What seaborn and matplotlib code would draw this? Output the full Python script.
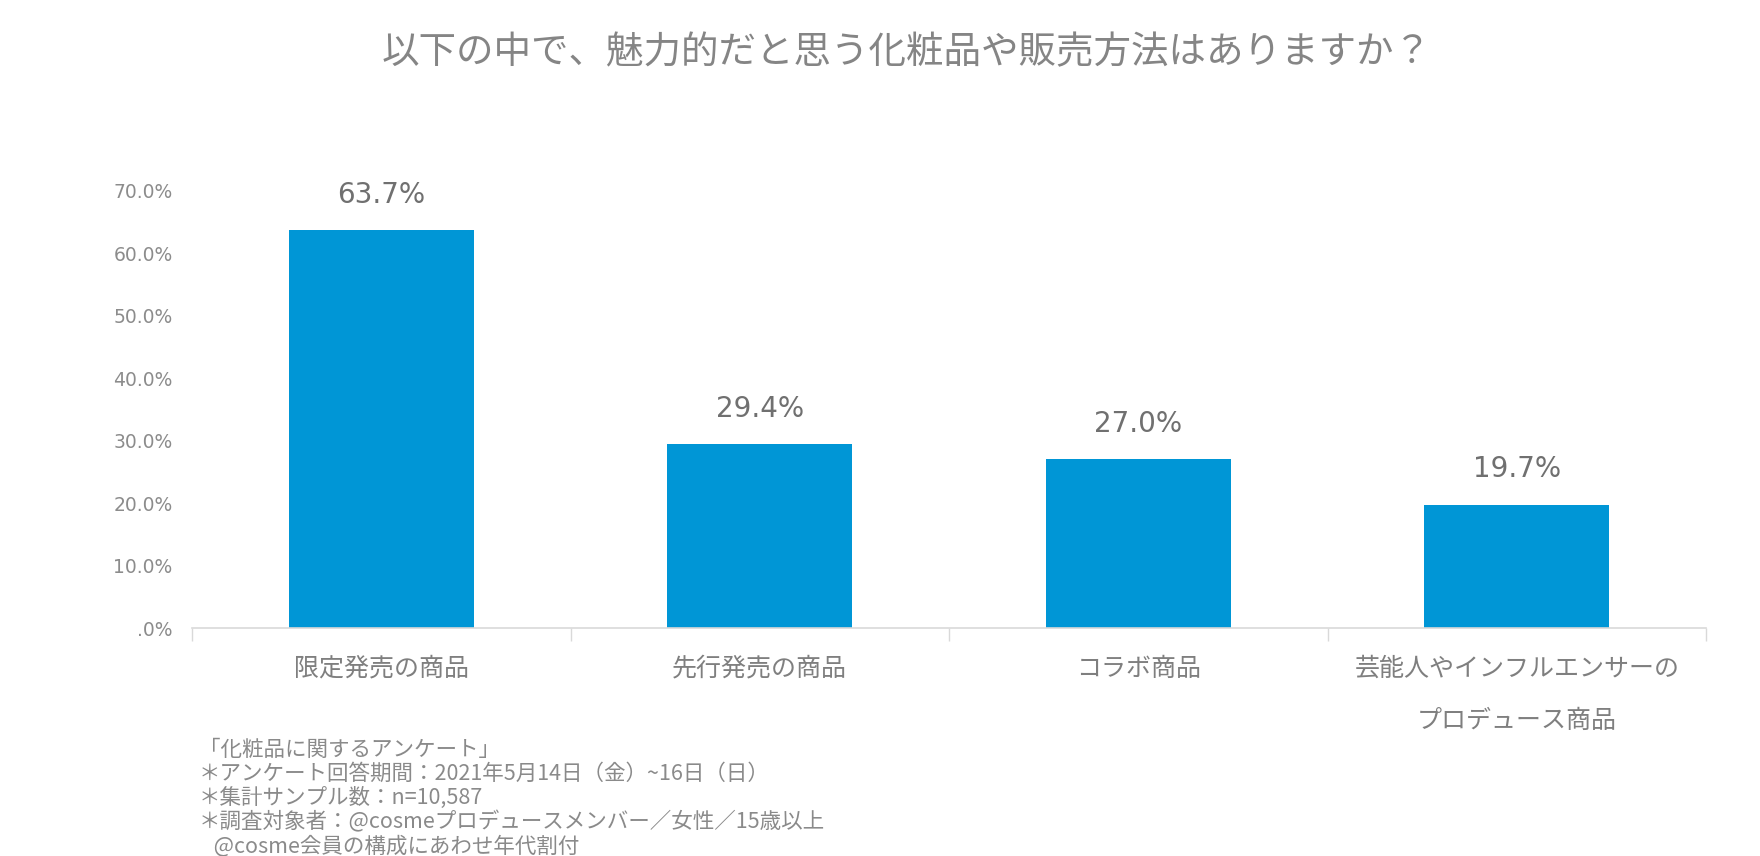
import matplotlib
matplotlib.use("Agg")
import matplotlib.pyplot as plt
import seaborn as sns
import pandas as pd
from matplotlib.ticker import FixedLocator

categories = ["限定発売の商品", "先行発売の商品", "コラボ商品", "芸能人やインフルエンサーの\nプロデュース商品"]
values = [63.7, 29.4, 27.0, 19.7]
ytick_values = [0, 10, 20, 30, 40, 50, 60, 70]
ytick_labels = [".0%", "10.0%", "20.0%", "30.0%", "40.0%", "50.0%", "60.0%", "70.0%"]
title = "以下の中で、魅力的だと思う化粧品や販売方法はありますか？"
footnote = ["「化粧品に関するアンケート」",
            "＊アンケート回答期間：2021年5月14日（金）~16日（日）",
            "＊集計サンプル数：n=10,587",
            "＊調査対象者：@cosmeプロデュースメンバー／女性／15歳以上",
            "   @cosme会員の構成にあわせ年代割付"]

sns.set_theme(style="white")
plt.rcParams['font.family'] = ['Noto Sans CJK JP', 'DejaVu Sans']

df = pd.DataFrame({"cat": categories, "val": values})

fig = plt.figure(figsize=(17.6, 8.56), dpi=100)
ax = fig.add_axes([192/1760, 1-628/856, (1706-192)/1760, (628-190.7)/856])

sns.barplot(data=df, x="cat", y="val", color="#0096D6", width=0.49, ax=ax,
            saturation=1, linewidth=0)

ax.set_ylim(0, 70)
ax.set_xlim(-0.5, len(categories) - 0.5)
ax.set_yticks(ytick_values)
ax.set_yticklabels(ytick_labels, fontsize=13.5, color="#8c8c8c", family=['DejaVu Sans'])
ax.tick_params(axis="y", length=0, pad=14)

ax.xaxis.set_major_locator(FixedLocator(range(len(categories))))
ax.set_xticklabels(categories, fontsize=18, color="#7f7f7f", linespacing=2.3, va="top")
ax.tick_params(axis="x", which="major", length=0, pad=20)
ax.xaxis.set_minor_locator(FixedLocator([i - 0.5 for i in range(len(categories) + 1)]))
ax.tick_params(axis="x", which="minor", length=9, width=1, color="#d9d9d9", direction="out", bottom=True)

ax.set_xlabel("")
ax.set_ylabel("")
for s in ["top", "right", "left"]:
    ax.spines[s].set_visible(False)
ax.spines["bottom"].set_color("#d9d9d9")
ax.spines["bottom"].set_linewidth(1.2)
ax.grid(False)

for i, v in enumerate(values):
    ax.annotate(f"{v:.1f}%", xy=(i, v), xytext=(0, 15.5), textcoords="offset points",
                ha="center", va="bottom", fontsize=20, color="#707070",
                family=['DejaVu Sans'])

fig.text(907/1760, 1-53/856, title, ha="center", va="center", fontsize=27, color="#858585")

for k, line in enumerate(footnote):
    fig.text(199/1760, 1-(750 + 24*k)/856, line, ha="left", va="center",
             fontsize=15.5, color="#8a8a8a")

fig.savefig("out.png", dpi=100, facecolor="white")
